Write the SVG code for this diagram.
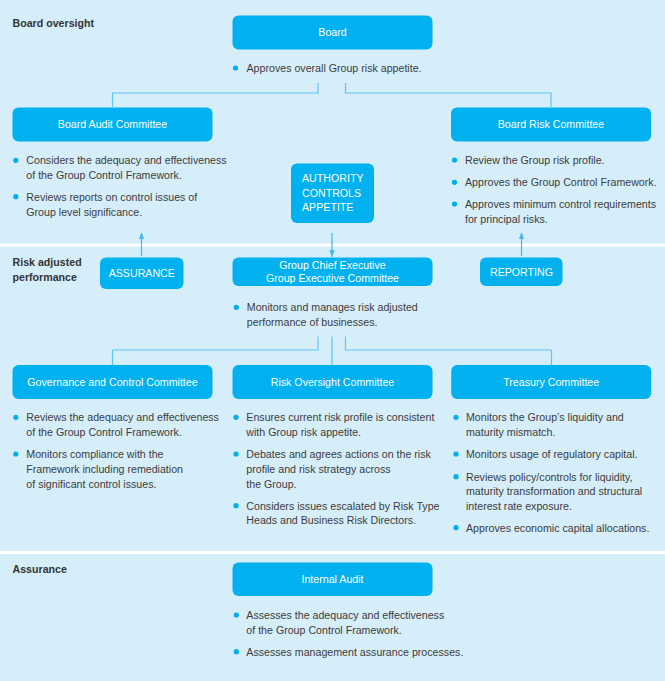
<svg xmlns="http://www.w3.org/2000/svg" width="665" height="681" viewBox="0 0 665 681">
<defs>
<style>
text{font-family:"Liberation Sans",Arial,sans-serif;font-size:10.65px;}
.bg{fill:#d6eefa;}
.sep{fill:#ffffff;}
.box{fill:#00b1ef;}
.bt{fill:#ffffff;text-anchor:middle;}
.btl{fill:#ffffff;}
.tx{fill:#3c3c3c;}
.hd{fill:#333333;font-weight:bold;}
.dot{fill:#00aeef;}
.con{fill:none;stroke:#5cc6f2;stroke-width:1.2;}
.arr{fill:none;stroke:#3fb9ef;stroke-width:1.2;}
</style>
<marker id="ah" viewBox="0 0 10 10" refX="9" refY="5" markerWidth="7" markerHeight="7" markerUnits="userSpaceOnUse" orient="auto">
<path d="M0,1.3 L10,5 L0,8.7 z" fill="#3fb9ef"/>
</marker>
</defs>
<rect class="bg" x="0" y="0" width="665" height="681"/>
<rect class="sep" x="0" y="243.5" width="665" height="3.2"/>
<rect class="sep" x="0" y="550.8" width="665" height="3.2"/>

<g id="section-labels">
<text class="hd" x="12.5" y="26.5">Board oversight</text>
<text class="hd" x="12.5" y="266">Risk adjusted</text>
<text class="hd" x="12.5" y="280.5">performance</text>
<text class="hd" x="12.5" y="573">Assurance</text>
</g>

<g id="connectors">
<path class="con" d="M318,83 V93 H112.5 V107"/>
<path class="con" d="M345.5,83 V93 H551 V107"/>
<path class="con" d="M318,336.5 V350 H112.5 V365"/>
<path class="con" d="M332,336.5 V365"/>
<path class="con" d="M345.5,336.5 V350 H551.5 V365"/>
<path class="arr" d="M141.5,256 V233" marker-end="url(#ah)"/>
<path class="arr" d="M332,233 V256.5" marker-end="url(#ah)"/>
<path class="arr" d="M521.5,256 V233" marker-end="url(#ah)"/>
</g>

<g id="board">
<rect class="box" x="232.5" y="15.5" width="200" height="34" rx="6"/>
<text class="bt" x="332.5" y="36">Board</text>
<circle class="dot" cx="235.5" cy="68" r="2.6"/>
<text class="tx" x="246.5" y="72">Approves overall Group risk appetite.</text>
</g>

<g id="board-audit-committee">
<rect class="box" x="12.5" y="107.5" width="200" height="34" rx="6"/>
<text class="bt" x="112.5" y="128">Board Audit Committee</text>
<circle class="dot" cx="15.8" cy="160.3" r="2.6"/>
<text class="tx" x="26.3" y="164">Considers the adequacy and effectiveness</text>
<text class="tx" x="26.3" y="179">of the Group Control Framework.</text>
<circle class="dot" cx="15.8" cy="196.7" r="2.6"/>
<text class="tx" x="26.3" y="200.5">Reviews reports on control issues of</text>
<text class="tx" x="26.3" y="215.5">Group level significance.</text>
</g>

<g id="board-risk-committee">
<rect class="box" x="451" y="107.5" width="200" height="34" rx="6"/>
<text class="bt" x="551" y="128">Board Risk Committee</text>
<circle class="dot" cx="454.5" cy="160" r="2.6"/>
<text class="tx" x="465" y="164">Review the Group risk profile.</text>
<circle class="dot" cx="454.5" cy="182.3" r="2.6"/>
<text class="tx" x="465" y="186">Approves the Group Control Framework.</text>
<circle class="dot" cx="454.5" cy="204" r="2.6"/>
<text class="tx" x="465" y="208">Approves minimum control requirements</text>
<text class="tx" x="465" y="223">for principal risks.</text>
</g>

<g id="authority">
<rect class="box" x="291" y="163.5" width="83" height="59.5" rx="6"/>
<text class="btl" x="302" y="182">AUTHORITY</text>
<text class="btl" x="302" y="196.5">CONTROLS</text>
<text class="btl" x="302" y="211">APPETITE</text>
</g>

<g id="assurance-tag">
<rect class="box" x="100" y="257.5" width="83.5" height="31.5" rx="6"/>
<text class="bt" x="141.8" y="276.5">ASSURANCE</text>
</g>

<g id="group-executive">
<rect class="box" x="232.5" y="257.5" width="200" height="28.5" rx="6"/>
<text class="bt" x="332.5" y="268.5">Group Chief Executive</text>
<text class="bt" x="332.5" y="282">Group Executive Committee</text>
<circle class="dot" cx="236.3" cy="307.3" r="2.6"/>
<text class="tx" x="246.8" y="311">Monitors and manages risk adjusted</text>
<text class="tx" x="246.8" y="326">performance of businesses.</text>
</g>

<g id="reporting-tag">
<rect class="box" x="480" y="257.5" width="82.5" height="28.5" rx="6"/>
<text class="bt" x="521.5" y="275.5">REPORTING</text>
</g>

<g id="governance-control-committee">
<rect class="box" x="12.5" y="365" width="200" height="34" rx="6"/>
<text class="bt" x="112.5" y="386">Governance and Control Committee</text>
<circle class="dot" cx="15.8" cy="417.3" r="2.6"/>
<text class="tx" x="26.3" y="421">Reviews the adequacy and effectiveness</text>
<text class="tx" x="26.3" y="436">of the Group Control Framework.</text>
<circle class="dot" cx="15.8" cy="454" r="2.6"/>
<text class="tx" x="26.3" y="458">Monitors compliance with the</text>
<text class="tx" x="26.3" y="473">Framework including remediation</text>
<text class="tx" x="26.3" y="487.5">of significant control issues.</text>
</g>

<g id="risk-oversight-committee">
<rect class="box" x="232.5" y="365" width="200" height="34" rx="6"/>
<text class="bt" x="332.5" y="386">Risk Oversight Committee</text>
<circle class="dot" cx="236" cy="417.3" r="2.6"/>
<text class="tx" x="246.3" y="421">Ensures current risk profile is consistent</text>
<text class="tx" x="246.3" y="436">with Group risk appetite.</text>
<circle class="dot" cx="236" cy="454" r="2.6"/>
<text class="tx" x="246.3" y="458">Debates and agrees actions on the risk</text>
<text class="tx" x="246.3" y="473">profile and risk strategy across</text>
<text class="tx" x="246.3" y="487.5">the Group.</text>
<circle class="dot" cx="236" cy="505.7" r="2.6"/>
<text class="tx" x="246.3" y="509.5">Considers issues escalated by Risk Type</text>
<text class="tx" x="246.3" y="524">Heads and Business Risk Directors.</text>
</g>

<g id="treasury-committee">
<rect class="box" x="451.2" y="365" width="200" height="34" rx="6"/>
<text class="bt" x="551.2" y="386">Treasury Committee</text>
<circle class="dot" cx="456" cy="417.3" r="2.6"/>
<text class="tx" x="466" y="421">Monitors the Group’s liquidity and</text>
<text class="tx" x="466" y="436">maturity mismatch.</text>
<circle class="dot" cx="456" cy="454" r="2.6"/>
<text class="tx" x="466" y="458">Monitors usage of regulatory capital.</text>
<circle class="dot" cx="456" cy="476.7" r="2.6"/>
<text class="tx" x="466" y="480.5">Reviews policy/controls for liquidity,</text>
<text class="tx" x="466" y="495">maturity transformation and structural</text>
<text class="tx" x="466" y="509.5">interest rate exposure.</text>
<circle class="dot" cx="456" cy="527.7" r="2.6"/>
<text class="tx" x="466" y="531.5">Approves economic capital allocations.</text>
</g>

<g id="internal-audit">
<rect class="box" x="232.5" y="562.5" width="200" height="33.5" rx="6"/>
<text class="bt" x="332.5" y="583">Internal Audit</text>
<circle class="dot" cx="236.3" cy="615" r="2.6"/>
<text class="tx" x="246.3" y="619">Assesses the adequacy and effectiveness</text>
<text class="tx" x="246.3" y="633.5">of the Group Control Framework.</text>
<circle class="dot" cx="236.3" cy="651.7" r="2.6"/>
<text class="tx" x="246.3" y="655.5">Assesses management assurance processes.</text>
</g>
</svg>
